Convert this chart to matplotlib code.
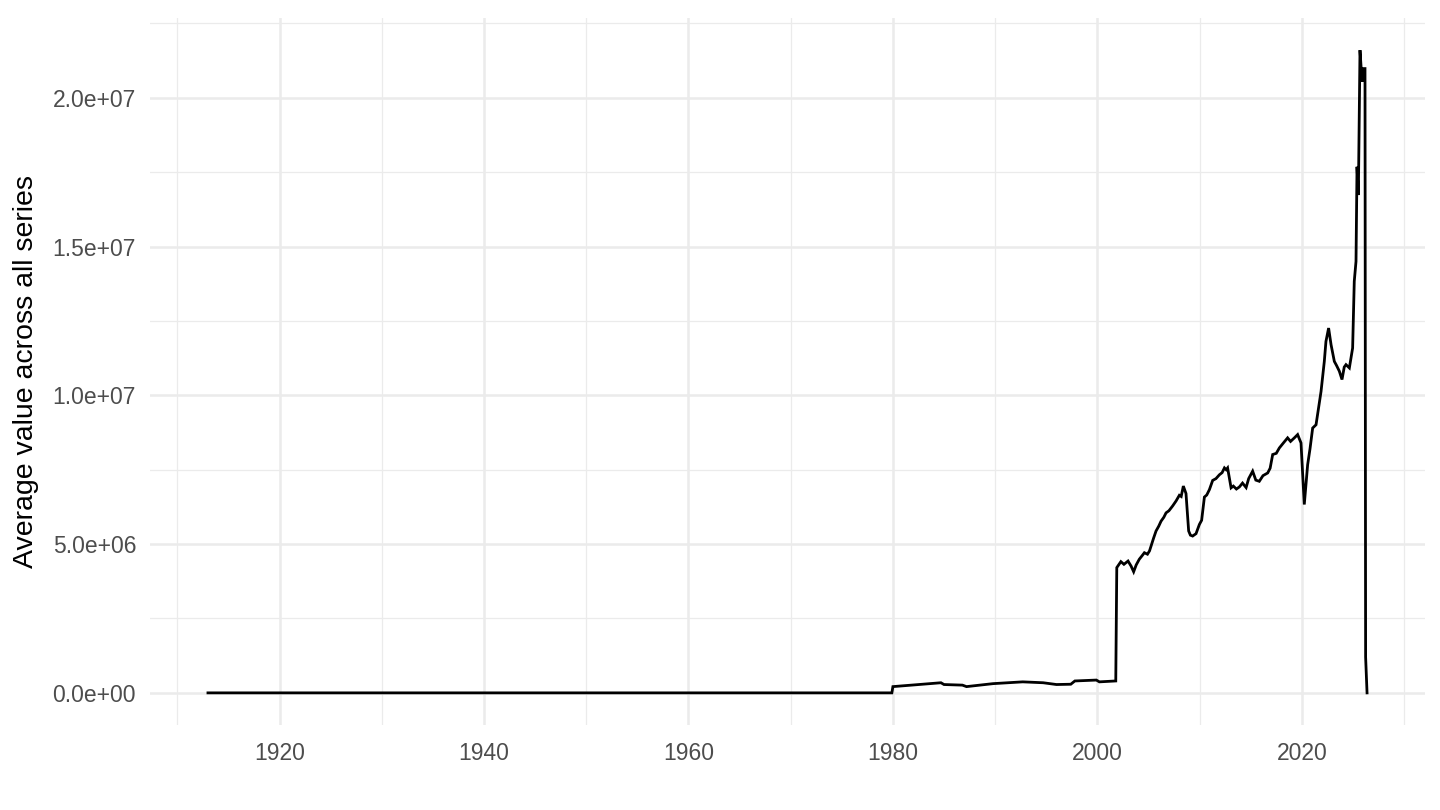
import matplotlib
matplotlib.use("Agg")
import matplotlib.pyplot as plt
from matplotlib.ticker import FuncFormatter, MultipleLocator

plt.rcParams["font.family"] = ["Liberation Sans", "DejaVu Sans"]

# ── data ──────────────────────────────────────────────────────────────────────
years = [
    1913.0, 1979.9, 1980.0, 1982.9, 1984.7, 1985.0, 1986.8, 1987.2, 1989.8,
    1992.7, 1994.7, 1996.0, 1997.4, 1997.8, 1999.9, 2000.2, 2001.8, 2001.9,
    2002.3, 2002.6, 2003.0, 2003.3, 2003.55, 2003.8, 2004.1, 2004.4, 2004.6,
    2004.9, 2005.1, 2005.25, 2005.5, 2005.74, 2006.0, 2006.23, 2006.5,
    2006.72, 2007.0, 2007.36, 2007.7, 2008.02, 2008.2, 2008.41, 2008.67,
    2008.93, 2009.1, 2009.32, 2009.65, 2009.98, 2010.2, 2010.47, 2010.7,
    2010.96, 2011.28, 2011.6, 2011.94, 2012.2, 2012.43, 2012.6, 2012.74,
    2013.08, 2013.3, 2013.6, 2013.89, 2014.2, 2014.55, 2014.8, 2015.19,
    2015.5, 2015.84, 2016.2, 2016.66, 2016.9, 2017.15, 2017.5, 2017.8,
    2018.2, 2018.61, 2018.9, 2019.27, 2019.59, 2019.92, 2020.24, 2020.57,
    2020.8, 2021.06, 2021.39, 2021.88, 2022.2, 2022.36, 2022.62, 2022.86,
    2023.18, 2023.4, 2023.67, 2023.93, 2024.15, 2024.32, 2024.65, 2024.97,
    2025.13, 2025.3, 2025.4, 2025.53, 2025.69, 2025.89, 2026.05, 2026.18,
    2026.24, 2026.38,
]
avg_value = [
    0.0, 0.0, 0.21, 0.29, 0.34, 0.28, 0.26, 0.21, 0.31,
    0.37, 0.34, 0.28, 0.29, 0.40, 0.43, 0.37, 0.40, 4.21,
    4.41, 4.32, 4.43, 4.26, 4.07, 4.30, 4.49, 4.62, 4.71,
    4.66, 4.77, 4.93, 5.20, 5.44, 5.60, 5.77, 5.90,
    6.05, 6.12, 6.28, 6.45, 6.64, 6.60, 6.95, 6.70,
    5.44, 5.30, 5.27, 5.35, 5.66, 5.80, 6.58, 6.65,
    6.83, 7.14, 7.20, 7.33, 7.40, 7.56, 7.50, 7.56,
    6.89, 6.95, 6.85, 6.92, 7.05, 6.90, 7.20, 7.45,
    7.15, 7.11, 7.30, 7.39, 7.55, 8.01, 8.05, 8.23,
    8.40, 8.57, 8.45, 8.57, 8.68, 8.40, 6.33, 7.67,
    8.20, 8.90, 9.01, 10.13, 11.14, 11.81, 12.26, 11.70,
    11.14, 11.00, 10.81, 10.53, 10.95, 11.03, 10.92, 11.59,
    13.83, 14.50, 17.68, 16.73, 21.60, 20.54, 20.98, 20.98,
    1.20, 0.0,
]
avg_value = [v * 1e6 for v in avg_value]

# ── figure ────────────────────────────────────────────────────────────────────
fig = plt.figure(figsize=(14.4, 8.1), dpi=100, facecolor="white")
ax = fig.add_axes([150 / 1440, 85 / 810, 1275 / 1440, 707 / 810])

ax.plot(years, avg_value, color="black", linewidth=2.0, solid_joinstyle="miter")

span = max(years) - min(years)
ax.set_xlim(min(years) - 0.05 * span, max(years) + 0.05 * span)
ymax = max(avg_value)
ax.set_ylim(-0.05 * ymax, ymax * 1.05)

ax.xaxis.set_major_locator(MultipleLocator(20))
ax.xaxis.set_minor_locator(MultipleLocator(10))
ax.yaxis.set_major_locator(MultipleLocator(5e6))
ax.yaxis.set_minor_locator(MultipleLocator(2.5e6))
ax.yaxis.set_major_formatter(FuncFormatter(lambda v, _: f"{v:.1e}"))

ax.grid(True, which="major", color="#EBEBEB", linewidth=1.8)
ax.grid(True, which="minor", color="#EBEBEB", linewidth=0.9)
ax.set_axisbelow(True)
for s in ax.spines.values():
    s.set_visible(False)
ax.tick_params(which="both", length=0)
ax.tick_params(axis="both", labelsize=16.5, labelcolor="#4D4D4D")
ax.tick_params(axis="x", pad=12)
ax.tick_params(axis="y", pad=10)

ax.set_ylabel("Average value across all series", fontsize=20.5, color="black", labelpad=10)

fig.savefig("out.png", dpi=100, facecolor="white")
